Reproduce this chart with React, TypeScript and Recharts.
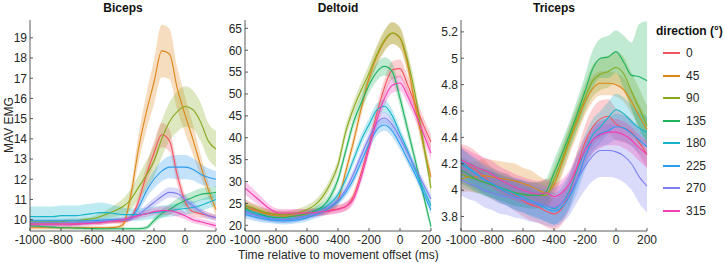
import React from "react";
import { ComposedChart, Line, Area, XAxis, YAxis } from "recharts";

// time axis (ms relative to movement offset)
const times = [
  -1000, -950, -900, -850, -800, -750, -700, -650, -600, -550, -500, -450, -400,
  -350, -300, -250, -200, -150, -100, -50, 0, 50, 100, 150, 200,
];
const xTicks = [-1000, -800, -600, -400, -200, 0, 200];

const directions = ["0", "45", "90", "135", "180", "225", "270", "315"];
const lineColors = ["#f5535f", "#dd8618", "#86aa1c", "#1db35f", "#17b5cc", "#2b9cf0", "#7b7ff2", "#f23eb0"];

// Biceps mean MAV per direction (rows follow `directions`)
const bicepsMean = [
  [9.8, 9.8, 9.8, 9.8, 9.8, 9.8, 9.8, 9.85, 9.85, 9.85, 9.9, 9.9, 9.9, 10.1, 10.9, 12.2, 13.3, 14.2, 13.9, 12.2, 10.9, 10.4, 10.3, 10.2, 10.1],
  [9.6, 9.6, 9.6, 9.6, 9.6, 9.6, 9.6, 9.6, 9.6, 9.6, 9.6, 9.62, 9.75, 11.2, 13.5, 15.3, 16.8, 18.35, 18.2, 16.5, 15.2, 14.0, 12.7, 11.5, 10.5],
  [9.9, 9.9, 9.9, 9.9, 9.9, 9.95, 9.95, 10.0, 10.05, 10.15, 10.3, 10.45, 10.65, 11.0, 11.6, 12.2, 12.9, 14.0, 14.85, 15.35, 15.6, 15.45, 14.85, 13.9, 13.5],
  [9.7, 9.68, 9.65, 9.63, 9.6, 9.6, 9.58, 9.57, 9.56, 9.55, 9.55, 9.55, 9.55, 9.55, 9.55, 9.6, 9.95, 10.3, 10.5, 10.75, 10.95, 11.1, 11.25, 11.3, 11.35],
  [10.15, 10.15, 10.15, 10.15, 10.2, 10.2, 10.2, 10.25, 10.3, 10.35, 10.35, 10.3, 10.25, 10.25, 10.25, 10.3, 10.35, 10.4, 10.45, 10.5, 10.55, 10.6, 10.7, 10.85, 11.0],
  [9.95, 9.95, 9.95, 9.95, 9.95, 9.95, 9.95, 9.95, 9.95, 9.97, 10.0, 10.0, 10.0, 10.1, 10.6, 11.4, 12.0, 12.4, 12.6, 12.6, 12.6, 12.5, 12.25, 12.1, 12.0],
  [9.85, 9.85, 9.85, 9.85, 9.85, 9.85, 9.85, 9.85, 9.87, 9.9, 9.92, 9.95, 9.97, 10.05, 10.25, 10.55, 10.85, 11.15, 11.35, 11.3, 11.0, 10.7, 10.4, 10.2, 10.1],
  [9.75, 9.75, 9.75, 9.75, 9.75, 9.75, 9.78, 9.8, 9.82, 9.85, 9.9, 9.95, 10.0, 10.1, 10.2, 10.3, 10.4, 10.45, 10.45, 10.35, 10.2, 10.0, 9.9, 9.8, 9.7],
];
// Biceps shaded error (half-width)
const bicepsErr = [
  [0.1, 0.1, 0.1, 0.1, 0.1, 0.1, 0.1, 0.1, 0.1, 0.1, 0.1, 0.1, 0.1, 0.15, 0.3, 0.45, 0.55, 0.6, 0.55, 0.45, 0.35, 0.25, 0.2, 0.15, 0.15],
  [0.08, 0.08, 0.08, 0.08, 0.08, 0.08, 0.08, 0.08, 0.08, 0.08, 0.08, 0.08, 0.15, 0.4, 0.7, 0.9, 1.1, 1.3, 1.25, 1.05, 0.9, 0.75, 0.55, 0.4, 0.3],
  [0.1, 0.1, 0.1, 0.1, 0.1, 0.1, 0.1, 0.1, 0.1, 0.15, 0.2, 0.3, 0.4, 0.5, 0.6, 0.7, 0.8, 0.9, 0.95, 1.0, 1.0, 0.95, 0.95, 0.9, 0.9],
  [0.08, 0.08, 0.08, 0.08, 0.08, 0.08, 0.08, 0.08, 0.08, 0.08, 0.08, 0.08, 0.08, 0.08, 0.08, 0.1, 0.15, 0.2, 0.25, 0.3, 0.3, 0.3, 0.3, 0.3, 0.3],
  [0.5, 0.5, 0.5, 0.5, 0.5, 0.5, 0.5, 0.5, 0.5, 0.5, 0.45, 0.4, 0.35, 0.3, 0.3, 0.3, 0.3, 0.3, 0.3, 0.3, 0.3, 0.3, 0.3, 0.3, 0.3],
  [0.1, 0.1, 0.1, 0.1, 0.1, 0.1, 0.1, 0.1, 0.1, 0.1, 0.1, 0.1, 0.1, 0.15, 0.25, 0.35, 0.45, 0.5, 0.55, 0.6, 0.6, 0.55, 0.5, 0.45, 0.4],
  [0.1, 0.1, 0.1, 0.1, 0.1, 0.1, 0.1, 0.1, 0.1, 0.1, 0.1, 0.1, 0.1, 0.12, 0.15, 0.2, 0.22, 0.25, 0.25, 0.25, 0.22, 0.2, 0.18, 0.15, 0.15],
  [0.12, 0.12, 0.12, 0.12, 0.12, 0.12, 0.12, 0.12, 0.12, 0.12, 0.12, 0.12, 0.12, 0.14, 0.15, 0.17, 0.18, 0.2, 0.2, 0.2, 0.18, 0.16, 0.15, 0.15, 0.15],
];

// Deltoid
const deltoidMean = [
  [24.5, 23.8, 23.2, 22.8, 22.6, 22.5, 22.6, 22.7, 22.8, 23.0, 23.2, 23.5, 23.8, 24.3, 26.7, 32.0, 38.5, 45.5, 51.5, 55.5, 55.8, 52.0, 47.5, 43.0, 39.0],
  [24.0, 23.5, 23.0, 22.5, 22.2, 22.1, 22.1, 22.3, 22.5, 22.8, 23.3, 24.0, 25.8, 32.3, 39.1, 46.7, 53.6, 58.5, 62.0, 63.9, 62.7, 56.6, 47.0, 38.5, 31.0],
  [24.5, 24.0, 23.3, 22.8, 22.5, 22.4, 22.6, 23.0, 23.6, 24.6, 26.5, 29.5, 33.8, 41.4, 46.7, 50.9, 54.7, 58.9, 62.3, 63.9, 62.9, 57.5, 49.5, 39.0, 28.5],
  [24.0, 23.0, 22.5, 22.0, 21.8, 21.8, 22.0, 22.3, 22.7, 23.3, 24.3, 26.5, 30.5, 37.0, 43.5, 48.0, 52.0, 55.0, 56.3, 55.1, 49.0, 41.8, 34.6, 27.0, 19.7],
  [23.5, 23.0, 22.3, 21.8, 21.5, 21.4, 21.5, 21.8, 22.3, 23.0, 23.8, 25.0, 27.0, 30.5, 35.0, 39.5, 43.0, 46.3, 47.2, 45.0, 41.0, 37.0, 32.5, 28.5, 24.5],
  [22.5, 22.0, 21.6, 21.3, 21.1, 21.0, 21.1, 21.3, 21.7, 22.3, 23.0, 24.0, 25.4, 27.5, 30.5, 34.5, 38.5, 41.8, 42.9, 41.5, 38.5, 35.0, 31.5, 27.5, 23.5],
  [23.0, 22.5, 22.0, 21.6, 21.4, 21.3, 21.4, 21.7, 22.1, 22.7, 23.4, 24.3, 25.8, 28.2, 31.8, 36.0, 40.0, 43.3, 44.5, 43.0, 40.0, 36.5, 33.0, 29.5, 26.0],
  [28.5, 27.0, 25.5, 24.0, 23.0, 22.8, 22.8, 22.8, 22.8, 22.9, 23.1, 23.3, 23.6, 24.3, 26.0, 31.0, 37.5, 44.0, 49.0, 52.0, 52.5, 49.5, 45.5, 41.0, 36.5],
];
const deltoidErr = [
  [1.5, 1.3, 1.1, 1.0, 0.9, 0.9, 0.9, 0.9, 0.9, 0.9, 0.9, 0.9, 0.9, 1.0, 1.1, 1.3, 1.5, 1.7, 1.9, 2.0, 2.1, 2.0, 1.9, 1.8, 1.7],
  [1.0, 0.9, 0.9, 0.8, 0.8, 0.8, 0.8, 0.8, 0.8, 0.8, 0.9, 1.0, 1.1, 1.3, 1.5, 1.7, 1.9, 2.1, 2.3, 2.5, 2.4, 2.2, 2.0, 1.8, 1.6],
  [1.0, 0.9, 0.9, 0.8, 0.8, 0.8, 0.8, 0.9, 1.0, 1.1, 1.2, 1.3, 1.4, 1.5, 1.6, 1.8, 2.0, 2.2, 2.4, 2.5, 2.4, 2.2, 2.0, 1.8, 1.6],
  [1.0, 0.9, 0.9, 0.8, 0.8, 0.8, 0.8, 0.8, 0.8, 0.9, 1.0, 1.1, 1.2, 1.3, 1.4, 1.6, 1.8, 2.0, 2.1, 2.0, 1.8, 1.6, 1.4, 1.2, 1.0],
  [1.0, 0.9, 0.9, 0.8, 0.8, 0.8, 0.8, 0.8, 0.8, 0.8, 0.9, 0.9, 1.0, 1.1, 1.2, 1.3, 1.4, 1.5, 1.5, 1.4, 1.3, 1.2, 1.1, 1.0, 1.0],
  [1.0, 0.9, 0.9, 0.8, 0.8, 0.8, 0.8, 0.8, 0.8, 0.8, 0.9, 0.9, 0.9, 1.0, 1.1, 1.2, 1.3, 1.3, 1.3, 1.3, 1.2, 1.1, 1.0, 1.0, 1.0],
  [1.0, 0.9, 0.9, 0.8, 0.8, 0.8, 0.8, 0.8, 0.8, 0.8, 0.9, 0.9, 0.9, 1.0, 1.1, 1.2, 1.3, 1.3, 1.3, 1.3, 1.2, 1.1, 1.0, 1.0, 1.0],
  [1.6, 1.4, 1.2, 1.0, 0.9, 0.9, 0.9, 0.9, 0.9, 0.9, 0.9, 0.9, 0.9, 1.0, 1.1, 1.3, 1.5, 1.6, 1.7, 1.8, 1.8, 1.7, 1.6, 1.6, 1.5],
];

// Triceps
const tricepsMean = [
  [4.2, 4.18, 4.15, 4.1, 4.05, 4.02, 4.0, 3.96, 3.92, 3.89, 3.87, 3.84, 3.82, 3.86, 3.98, 4.18, 4.36, 4.48, 4.54, 4.56, 4.5, 4.47, 4.44, 4.36, 4.27],
  [4.08, 4.1, 4.1, 4.11, 4.1, 4.09, 4.08, 4.07, 4.05, 4.03, 4.0, 3.98, 4.04, 4.2, 4.37, 4.52, 4.67, 4.77, 4.81, 4.81, 4.8, 4.76, 4.67, 4.56, 4.46],
  [4.12, 4.1, 4.08, 4.06, 4.04, 4.02, 4.0, 3.98, 3.97, 3.96, 3.96, 3.96, 4.08, 4.23, 4.39, 4.55, 4.7, 4.83, 4.88, 4.9, 4.93, 4.88, 4.75, 4.62, 4.49],
  [4.15, 4.12, 4.08, 4.06, 4.04, 4.02, 4.0, 3.98, 3.97, 3.96, 3.96, 3.99, 4.13, 4.27, 4.42, 4.58, 4.75, 4.92, 5.0, 5.01, 5.05, 4.97, 4.87, 4.86, 4.83],
  [4.2, 4.16, 4.12, 4.08, 4.05, 4.02, 4.0, 3.97, 3.95, 3.92, 3.9, 3.88, 3.86, 3.9, 4.0, 4.15, 4.3, 4.42, 4.48, 4.55, 4.61, 4.58, 4.52, 4.47, 4.44],
  [4.22, 4.17, 4.12, 4.08, 4.05, 4.01, 3.98, 3.95, 3.93, 3.91, 3.89, 3.86, 3.84, 3.87, 3.95, 4.08, 4.25, 4.38, 4.43, 4.45, 4.48, 4.47, 4.43, 4.38, 4.33],
  [4.08, 4.05, 4.03, 4.0, 3.98, 3.96, 3.95, 3.94, 3.93, 3.91, 3.9, 3.88, 3.87, 3.9, 3.97, 4.08, 4.18, 4.26, 4.3, 4.3, 4.29, 4.26, 4.2, 4.1, 4.03],
  [4.23, 4.2, 4.17, 4.15, 4.12, 4.08, 4.05, 4.02, 4.0, 3.98, 3.97, 3.98, 3.95, 3.98, 4.05, 4.18, 4.3, 4.38, 4.42, 4.44, 4.44, 4.42, 4.38, 4.32, 4.27],
];
const tricepsErr = [
  [0.15, 0.15, 0.14, 0.13, 0.12, 0.12, 0.12, 0.12, 0.12, 0.12, 0.12, 0.12, 0.12, 0.12, 0.12, 0.12, 0.13, 0.14, 0.14, 0.13, 0.12, 0.11, 0.1, 0.1, 0.1],
  [0.1, 0.11, 0.12, 0.13, 0.13, 0.13, 0.13, 0.13, 0.12, 0.12, 0.11, 0.1, 0.1, 0.1, 0.1, 0.1, 0.1, 0.1, 0.09, 0.09, 0.09, 0.09, 0.09, 0.09, 0.09],
  [0.1, 0.1, 0.1, 0.1, 0.1, 0.1, 0.1, 0.1, 0.1, 0.1, 0.1, 0.1, 0.1, 0.1, 0.1, 0.1, 0.11, 0.12, 0.12, 0.12, 0.12, 0.13, 0.14, 0.15, 0.15],
  [0.1, 0.1, 0.1, 0.1, 0.1, 0.1, 0.1, 0.1, 0.1, 0.1, 0.1, 0.1, 0.1, 0.1, 0.1, 0.11, 0.12, 0.14, 0.15, 0.16, 0.16, 0.2, 0.25, 0.4, 0.45],
  [0.12, 0.12, 0.12, 0.12, 0.12, 0.12, 0.12, 0.12, 0.12, 0.12, 0.12, 0.12, 0.12, 0.12, 0.12, 0.12, 0.12, 0.12, 0.12, 0.12, 0.12, 0.12, 0.12, 0.12, 0.12],
  [0.1, 0.1, 0.1, 0.1, 0.1, 0.1, 0.1, 0.1, 0.1, 0.1, 0.1, 0.1, 0.1, 0.1, 0.1, 0.1, 0.1, 0.1, 0.1, 0.1, 0.1, 0.1, 0.1, 0.1, 0.1],
  [0.12, 0.12, 0.12, 0.13, 0.13, 0.14, 0.14, 0.15, 0.15, 0.15, 0.15, 0.15, 0.15, 0.15, 0.16, 0.17, 0.18, 0.19, 0.2, 0.2, 0.2, 0.2, 0.2, 0.2, 0.2],
  [0.1, 0.1, 0.1, 0.1, 0.1, 0.1, 0.1, 0.1, 0.1, 0.1, 0.1, 0.1, 0.1, 0.1, 0.1, 0.1, 0.1, 0.1, 0.1, 0.1, 0.1, 0.1, 0.1, 0.1, 0.1],
];

const bicepsTicks = [10, 11, 12, 13, 14, 15, 16, 17, 18, 19];
const deltoidTicks = [20, 25, 30, 35, 40, 45, 50, 55, 60, 65];
const tricepsTicks = [3.8, 4, 4.2, 4.4, 4.6, 4.8, 5, 5.2];

const FONT = '"Liberation Sans", Arial, Helvetica, sans-serif';
const AXIS = "#333333";
const TXT = "#262626";
const GAP = 3;

function YTick(props: any) {
  const { x, y, payload } = props;
  const ax = x + GAP;
  return (
    <g>
      <line x1={ax} x2={ax + 3} y1={y} y2={y} stroke={AXIS} strokeWidth={0.8} />
      <text x={x} y={y} dy="0.36em" textAnchor="end" fontSize={12} fill={TXT} fontFamily={FONT}>
        {payload.value}
      </text>
    </g>
  );
}

function XTick(props: any) {
  const { x, y, payload } = props;
  const ay = y - GAP;
  return (
    <g>
      <line x1={x} x2={x} y1={ay} y2={ay - 3} stroke={AXIS} strokeWidth={0.8} />
      <text x={x} y={y} dy="0.8em" textAnchor="middle" fontSize={12} fill={TXT} fontFamily={FONT}>
        {payload.value}
      </text>
    </g>
  );
}

interface PanelProps {
  title: string;
  means: number[][];
  errs: number[][];
  domain: [number, number];
  ticks: number[];
  left: number;
}

function Panel({ title, means, errs, domain, ticks, left }: PanelProps) {
  const rows = times.map((t, j) => {
    const row: Record<string, any> = { t };
    means.forEach((m, i) => {
      row["m" + i] = m[j];
      row["b" + i] = [m[j] - errs[i][j], m[j] + errs[i][j]];
    });
    return row;
  });

  return (
    <div style={{ position: "absolute", left, top: 0 }}>
      <div
        style={{
          position: "absolute",
          left: 30,
          width: 186,
          top: 1,
          textAlign: "center",
          fontFamily: FONT,
          fontWeight: "bold",
          fontSize: 12,
          color: "#111",
        }}
      >
        {title}
      </div>
      <ComposedChart width={232} height={263} data={rows} margin={{ top: 20, right: 16, bottom: 0, left: 0 }}>
        <XAxis
          type="number"
          dataKey="t"
          domain={[-1000, 200]}
          ticks={xTicks}
          height={32}
          tickSize={0}
          tickMargin={GAP}
          tickLine={false}
          axisLine={{ stroke: AXIS, strokeWidth: 0.8 }}
          tick={(p: any) => <XTick {...p} />}
          interval={0}
        />
        <YAxis
          type="number"
          domain={domain}
          ticks={ticks}
          width={30}
          allowDataOverflow
          tickSize={0}
          tickMargin={GAP}
          tickLine={false}
          axisLine={{ stroke: AXIS, strokeWidth: 0.8 }}
          tick={(p: any) => <YTick {...p} />}
          interval={0}
        />
        {means.map((_, i) => (
          <Area
            key={"b" + i}
            type="monotone"
            dataKey={"b" + i}
            fill={lineColors[i]}
            fillOpacity={0.28}
            stroke="none"
            isAnimationActive={false}
            dot={false}
            activeDot={false}
          />
        ))}
        {means.map((_, i) => (
          <Line
            key={"m" + i}
            type="monotone"
            dataKey={"m" + i}
            stroke={lineColors[i]}
            strokeWidth={1.1}
            dot={false}
            activeDot={false}
            isAnimationActive={false}
          />
        ))}
      </ComposedChart>
    </div>
  );
}

export default function App() {
  return (
    <div style={{ position: "absolute", left: 0, top: 0, width: 725, height: 263, background: "#fff", overflow: "hidden" }}>
      <Panel title="Biceps" means={bicepsMean} errs={bicepsErr} domain={[9.44, 19.88]} ticks={bicepsTicks} left={0} />
      <Panel title="Deltoid" means={deltoidMean} errs={deltoidErr} domain={[18.7, 66.9]} ticks={deltoidTicks} left={215} />
      <Panel title="Triceps" means={tricepsMean} errs={tricepsErr} domain={[3.69, 5.29]} ticks={tricepsTicks} left={431} />

      <div
        style={{
          position: "absolute",
          left: 2,
          top: 125,
          transform: "translate(0, -50%) rotate(-90deg)",
          transformOrigin: "center",
          width: 14,
          display: "flex",
          justifyContent: "center",
          whiteSpace: "nowrap",
          fontFamily: FONT,
          fontSize: 12,
          color: TXT,
        }}
      >
        MAV EMG
      </div>

      <div
        style={{
          position: "absolute",
          left: 238,
          width: 200,
          top: 248,
          textAlign: "center",
          whiteSpace: "nowrap",
          fontFamily: FONT,
          fontSize: 12,
          color: TXT,
        }}
      >
        Time relative to movement offset (ms)
      </div>

      <div style={{ position: "absolute", left: 656, top: 24, fontFamily: FONT, color: "#111" }}>
        <div style={{ fontWeight: "bold", fontSize: 12, lineHeight: "15px", whiteSpace: "nowrap" }}>direction (°)</div>
        <div style={{ marginTop: 3 }}>
          {directions.map((d, i) => (
            <div key={d} style={{ display: "flex", alignItems: "center", height: 22.5 }}>
              <span style={{ display: "inline-block", width: 17, height: 2, background: lineColors[i], marginLeft: 7, marginRight: 6 }} />
              <span style={{ fontSize: 12, color: TXT }}>{d}</span>
            </div>
          ))}
        </div>
      </div>
    </div>
  );
}
